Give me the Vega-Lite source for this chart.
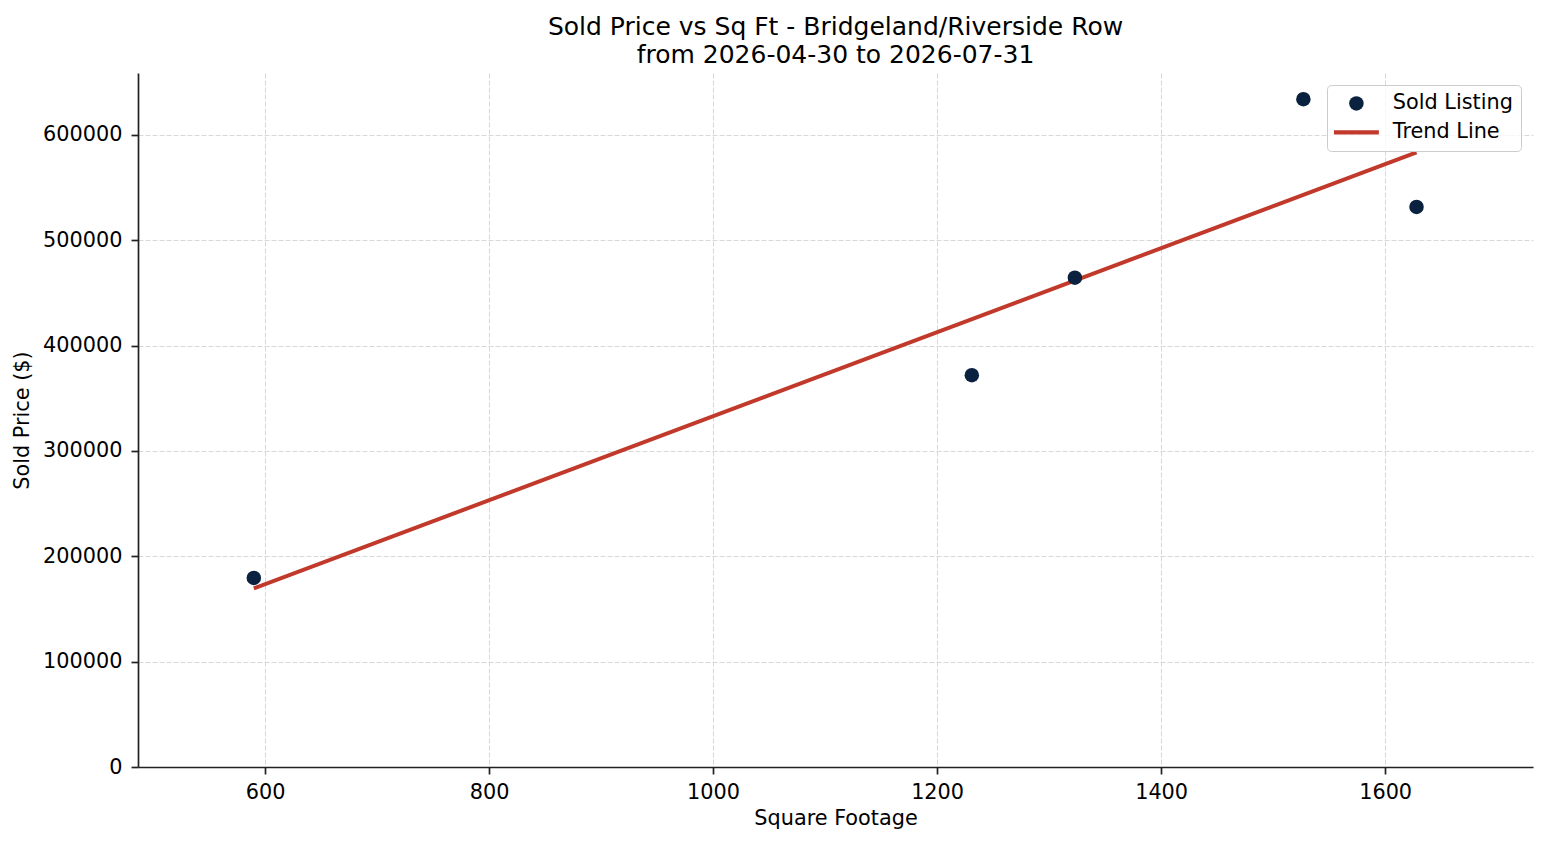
{
  "$schema": "https://vega.github.io/schema/vega-lite/v6.json",
  "width": 1395,
  "height": 694,
  "autosize": "none",
  "padding": {"left": 138, "top": 73, "right": 14, "bottom": 78},
  "background": "white",
  "title": {
    "text": ["Sold Price vs Sq Ft - Bridgeland/Riverside Row", "from 2026-04-30 to 2026-07-31"],
    "font": "DejaVu Sans",
    "fontSize": 25,
    "fontWeight": "normal",
    "color": "black",
    "anchor": "middle",
    "lineHeight": 28,
    "offset": 5
  },
  "datasets": {
    "sold": [
      {"sqft": 590, "price": 179500, "series": "Sold Listing"},
      {"sqft": 1231, "price": 372000, "series": "Sold Listing"},
      {"sqft": 1323, "price": 464500, "series": "Sold Listing"},
      {"sqft": 1527, "price": 634000, "series": "Sold Listing"},
      {"sqft": 1628, "price": 531700, "series": "Sold Listing"}
    ],
    "trend": [
      {"sqft": 590, "price": 169500, "series": "Trend Line"},
      {"sqft": 1628, "price": 583500, "series": "Trend Line"}
    ]
  },
  "config": {
    "font": "DejaVu Sans",
    "view": {"stroke": null},
    "axis": {
      "domainColor": "#222222",
      "domainWidth": 1.7,
      "tickColor": "#222222",
      "tickWidth": 1.7,
      "tickSize": 7,
      "labelFont": "DejaVu Sans",
      "labelFontSize": 20.8,
      "labelColor": "black",
      "titleFont": "DejaVu Sans",
      "titleFontSize": 20.8,
      "titleFontWeight": "normal",
      "titleColor": "black",
      "gridColor": "#d4d4d4",
      "gridWidth": 0.9,
      "gridDash": [5, 2]
    },
    "legend": {
      "labelFont": "DejaVu Sans",
      "labelFontSize": 20.8,
      "labelColor": "black"
    }
  },
  "encoding": {
    "x": {
      "field": "sqft",
      "type": "quantitative",
      "title": "Square Footage",
      "scale": {"domain": [486.6, 1732], "nice": false, "zero": false},
      "axis": {"values": [600, 800, 1000, 1200, 1400, 1600], "format": "d", "labelPadding": 8, "titlePadding": 7}
    },
    "y": {
      "field": "price",
      "type": "quantitative",
      "title": "Sold Price ($)",
      "scale": {"domain": [0, 658860], "nice": false},
      "axis": {"values": [0, 100000, 200000, 300000, 400000, 500000, 600000], "format": "d", "labelPadding": 9, "titlePadding": 10}
    }
  },
  "layer": [
    {
      "data": {"name": "trend"},
      "mark": {"type": "line", "strokeWidth": 4, "strokeCap": "butt"},
      "encoding": {
        "color": {
          "field": "series",
          "type": "nominal",
          "title": null,
          "scale": {"domain": ["Sold Listing", "Trend Line"], "range": ["#0a2240", "#c0392b"]}
        }
      }
    },
    {
      "data": {"name": "sold"},
      "mark": {"type": "point", "filled": true, "opacity": 1, "size": 210},
      "encoding": {
        "color": {
          "field": "series",
          "type": "nominal",
          "title": null,
          "scale": {"domain": ["Sold Listing", "Trend Line"], "range": ["#0a2240", "#c0392b"]},
          "legend": {
            "orient": "none",
            "legendX": 1189,
            "legendY": 12,
            "padding": 8,
            "strokeColor": "#cccccc",
            "fillColor": "rgba(255,255,255,0.8)",
            "cornerRadius": 4,
            "symbolSize": 210,
            "symbolStrokeWidth": 0,
            "symbolOpacity": 1,
            "symbolOffset": 11,
            "labelOffset": 26,
            "rowPadding": 7
          }
        },
        "shape": {
          "field": "series",
          "type": "nominal",
          "title": null,
          "scale": {"domain": ["Sold Listing", "Trend Line"], "range": ["circle", "M-3.1,-0.28H3.1V0.28H-3.1Z"]}
        }
      }
    }
  ]
}
